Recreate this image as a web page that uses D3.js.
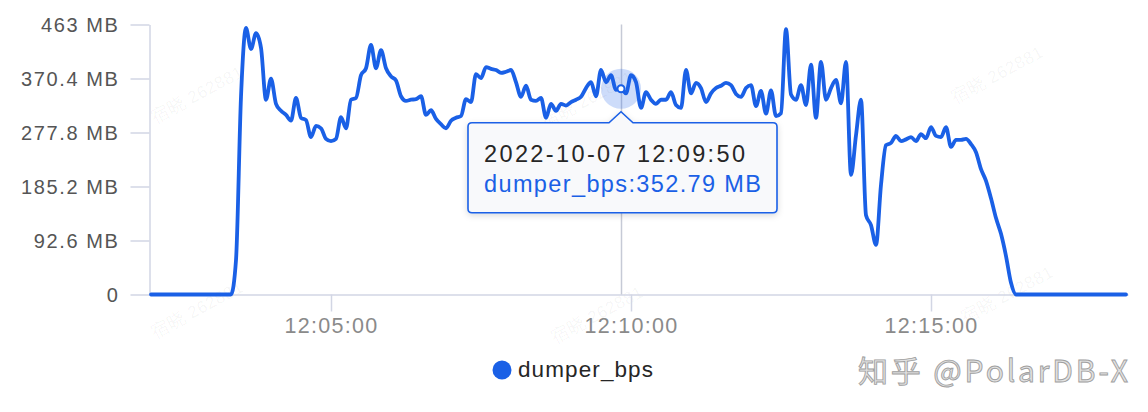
<!DOCTYPE html>
<html><head><meta charset="utf-8">
<script src="https://cdn.jsdelivr.net/npm/d3@7"></script>
<style>
body{margin:0;background:#fff;}
svg{display:block;font-family:"Liberation Sans",Arial,Helvetica,sans-serif;}
</style>
</head><body>
<svg id="chart" width="1148" height="412"></svg>
<script>
// ---- data ----
const startTime = "2022-10-07T12:02:00";
const stepSeconds = 5;
const seriesName = "dumper_bps";
const values = [
  0,0,0,0,0,0,0,0,0,0,0,0,0,0,0,0,0,
  59,339,457,421,448,423,334,370,327,315,308,298,337,303,299,270,289,285,267,263,
  267,304,285,334,337,376,388,428,388,419,388,374,367,340,332,334,335,340,308,316,
  301,292,285,298,303,306,335,330,378,371,390,387,385,380,382,385,364,339,358,334,
  332,337,303,327,315,327,324,330,334,339,354,364,340,385,364,376,351,352.79,345,376,
  364,320,347,334,327,334,334,347,325,320,385,345,363,354,330,345,354,358,363,359,
  344,339,354,359,323,349,310,350,306,311,455,343,334,359,325,394,303,399,334,354,
  368,328,399,205,273,334,136,119,85,188,256,260,272,263,266,270,263,275,268,287,
  272,270,287,253,265,265,267,258,244,215,195,165,131,104,66,20,0,
  0,0,0,0,0,0,0,0,0,0,0,0,0,0,0,0,0,0,0,0,0,0
];
const yTickValues = [0, 92.6, 185.2, 277.8, 370.4, 463];
const yTickLabels = ["0", "92.6 MB", "185.2 MB", "277.8 MB", "370.4 MB", "463 MB"];
const xTickTimes = ["2022-10-07T12:05:00", "2022-10-07T12:10:00", "2022-10-07T12:15:00"];
const xTickLabels = ["12:05:00", "12:10:00", "12:15:00"];
const tooltipTimeLabel = "2022-10-07 12:09:50";
const tooltipTime = "2022-10-07T12:09:50";
const tooltipValue = 352.79;
const watermarkText = "知乎 @PolarDB-X";
const faintMarks = ["262881", "262881", "262881", "262881", "262881", "262881"];

(function () {
const t0 = new Date(startTime);
const data = values.map((v, i) => ({ t: new Date(t0.getTime() + i * stepSeconds * 1000), v }));

const svg = d3.select("#chart");
const blue = "#1a60e6";
const axisCol = "#d2d6e4";

const x = d3.scaleTime()
  .domain([new Date(t0.getTime() - 1000), new Date(t0.getTime() + 977000)])
  .range([150, 1128]);
const y = d3.scaleLinear().domain([0, 463]).range([294.5, 24.5]);

// faint background watermarks
const fm = [[200, 100], [1000, 80], [200, 315], [600, 320], [1010, 300], [590, 105]];
svg.append("g").selectAll("text").data(faintMarks).join("text")
  .attr("transform", (d, i) => `translate(${fm[i][0]},${fm[i][1]}) rotate(-28)`)
  .attr("text-anchor", "middle")
  .attr("font-size", 18).attr("font-weight", "bold")
  .attr("fill", "#000").attr("fill-opacity", 0.028)
  .text(d => "宿晓 " + d);

// y axis
const gy = svg.append("g").attr("transform", "translate(149.5,0)")
  .call(d3.axisLeft(y).tickValues(yTickValues).tickSize(19).tickSizeOuter(0)
    .tickPadding(11).tickFormat((d, i) => yTickLabels[i]));
gy.select(".domain").attr("stroke", axisCol).attr("stroke-width", 1.5);
gy.selectAll(".tick line").attr("stroke", axisCol).attr("stroke-width", 1.5);
gy.selectAll(".tick text").attr("fill", "#555").attr("font-size", 20)
  .attr("letter-spacing", 1.6).attr("dy", "0.36em");

// x axis
const gx = svg.append("g").attr("transform", "translate(0,294.5)")
  .call(d3.axisBottom(x).tickValues(xTickTimes.map(s => new Date(s))).tickSize(17)
    .tickSizeOuter(0).tickFormat((d, i) => xTickLabels[i]));
gx.select(".domain").attr("stroke", axisCol).attr("stroke-width", 1.5);
gx.selectAll(".tick line").attr("stroke", axisCol).attr("stroke-width", 1.5);
gx.selectAll(".tick text").attr("fill", "#8a8a8a").attr("font-size", 21.5)
  .attr("letter-spacing", 1.3).attr("y", 38).attr("dy", 0);

// crosshair
const tt = new Date(tooltipTime);
const px = x(tt), py = y(tooltipValue);
svg.append("line").attr("x1", px + 0.5).attr("x2", px + 0.5)
  .attr("y1", y(463)).attr("y2", y(0))
  .attr("stroke", "#c6cad6").attr("stroke-width", 1.5);

// line
const line = d3.line().x(d => x(d.t)).y(d => y(d.v)).curve(d3.curveMonotoneX);
svg.append("path").datum(data).attr("d", line)
  .attr("fill", "none").attr("stroke", blue).attr("stroke-width", 3.8)
  .attr("stroke-linejoin", "round").attr("stroke-linecap", "round");

// active point
svg.append("circle").attr("cx", px).attr("cy", py).attr("r", 20)
  .attr("fill", blue).attr("fill-opacity", 0.22);
svg.append("circle").attr("cx", px).attr("cy", py).attr("r", 3.5)
  .attr("fill", "#fff").attr("stroke", blue).attr("stroke-width", 2);

// tooltip
const defs = svg.append("defs");
const f = defs.append("filter").attr("id", "sh").attr("x", "-10%").attr("y", "-20%")
  .attr("width", "120%").attr("height", "150%");
f.append("feDropShadow").attr("dx", 0).attr("dy", 2).attr("stdDeviation", 3)
  .attr("flood-color", "#000").attr("flood-opacity", 0.15);

const bw = 309, bh = 90, r = 4;
const bL = px - 153, bT = py + 34, bR = bL + bw, bB = bT + bh;
const pth = `M${bL + r},${bT} L${px - 12},${bT} L${px},${bT - 11} L${px + 12},${bT} L${bR - r},${bT}
  Q${bR},${bT} ${bR},${bT + r} L${bR},${bB - r} Q${bR},${bB} ${bR - r},${bB}
  L${bL + r},${bB} Q${bL},${bB} ${bL},${bB - r} L${bL},${bT + r} Q${bL},${bT} ${bL + r},${bT} Z`;
svg.append("path").attr("d", pth).attr("fill", "#f8f9fb")
  .attr("stroke", blue).attr("stroke-width", 1.6).attr("filter", "url(#sh)");
svg.append("text").attr("x", bL + 16).attr("y", bT + 39)
  .attr("font-size", 23.5).attr("fill", "#262626")
  .attr("textLength", 261).attr("lengthAdjust", "spacing")
  .text(tooltipTimeLabel);
svg.append("text").attr("x", bL + 16).attr("y", bT + 69)
  .attr("font-size", 23.5).attr("fill", blue)
  .attr("textLength", 277).attr("lengthAdjust", "spacing")
  .text(`${seriesName}:${tooltipValue} MB`);

// legend
svg.append("circle").attr("cx", 502).attr("cy", 370).attr("r", 9.5).attr("fill", blue);
svg.append("text").attr("x", 518).attr("y", 377).attr("font-size", 22.5)
  .attr("fill", "#262626").attr("letter-spacing", 1.1).text(seriesName);

// site watermark
svg.append("text").attr("x", 858).attr("y", 382)
  .attr("font-family", "'Noto Sans CJK SC', sans-serif").attr("font-size", 30)
  .attr("fill", "#e2e2e2").attr("stroke", "#a0a0a0").attr("stroke-width", 0.9)
  .attr("textLength", 270).attr("lengthAdjust", "spacing")
  .text(watermarkText);
})();
</script>
</body></html>
